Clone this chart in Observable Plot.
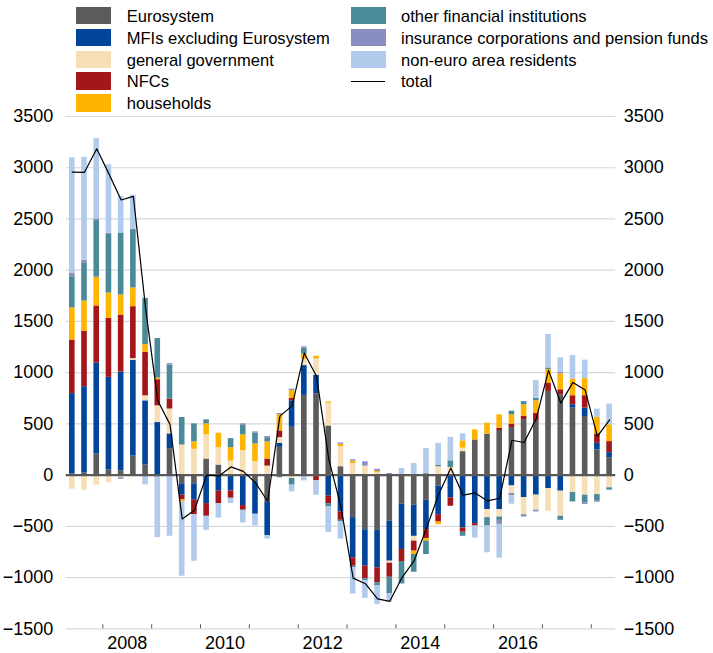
<!DOCTYPE html>
<html><head><meta charset="utf-8">
<script src="https://cdn.jsdelivr.net/npm/d3@7"></script>
<script src="https://cdn.jsdelivr.net/npm/@observablehq/plot@0.6"></script>
<style>
body{margin:0;background:#fff;font-family:"Liberation Sans",Arial,sans-serif;}
#wrap{position:relative;width:713px;height:653px;overflow:hidden;}
#legend{position:relative;height:106px;}
.sw{position:absolute;width:35px;height:17.6px;}
.ln{position:absolute;width:34px;height:0;border-top:1.2px solid #000;}
.lt{position:absolute;font-size:16.55px;line-height:17.6px;color:#000;white-space:nowrap;}
#chart svg{display:block;}
</style></head><body>
<div id="wrap"><div id="legend"></div><div id="chart"></div></div>
<script>
const quarters = ["2007Q2","2007Q3","2007Q4",
 "2008Q1","2008Q2","2008Q3","2008Q4","2009Q1","2009Q2","2009Q3","2009Q4",
 "2010Q1","2010Q2","2010Q3","2010Q4","2011Q1","2011Q2","2011Q3","2011Q4",
 "2012Q1","2012Q2","2012Q3","2012Q4","2013Q1","2013Q2","2013Q3","2013Q4",
 "2014Q1","2014Q2","2014Q3","2014Q4","2015Q1","2015Q2","2015Q3","2015Q4",
 "2016Q1","2016Q2","2016Q3","2016Q4","2017Q1","2017Q2","2017Q3","2017Q4",
 "2018Q1","2018Q2"];
const sectorNames = ["Eurosystem","MFIs excluding Eurosystem","general government","NFCs","households",
 "other financial institutions","insurance corporations and pension funds","non-euro area residents"];
const sectorColors = ["#5b5b5b","#00459a","#f6dfb6","#a3171a","#ffb400","#4b8a98","#8a8dc0","#b2cbec"];
const eurosystem = [10,20,206,49,42,186,98,0,258,-85,-85,157,98,0,0,-65,-268,271,467,778,794,480,82,-415,-533,-539,-451,-284,-294,-245,-108,0,229,343,399,435,465,542,533,817,784,654,572,245,170];
const mfis = [785,843,889,905,964,935,627,513,144,-111,-160,-278,-157,-154,-297,-317,-323,39,258,291,180,-206,-359,-392,-356,-366,-389,-441,-304,-288,-278,-222,-516,-474,-337,-337,-106,-219,-196,-131,-157,33,82,65,49];
const generalGov = [-137,-147,-98,-75,-25,16,49,163,243,294,252,235,170,137,239,131,88,56,-33,60,160,222,196,114,88,23,-20,0,-46,0,82,75,33,0,-78,-72,-73,-167,-147,-222,-245,-170,-196,-190,-124];
const nfcs = [523,542,556,578,556,507,425,255,97,-46,-142,-124,-121,-72,-46,0,69,65,23,0,-56,-72,-82,-82,-124,-147,-137,-118,-98,-88,-72,-82,-42,-23,0,23,33,30,72,82,49,88,121,92,108];
const households = [314,294,281,245,196,183,75,16,0,-20,72,108,141,131,154,173,167,160,78,50,26,13,23,23,0,13,0,0,-33,-23,-26,0,72,98,108,131,90,114,121,131,154,163,167,160,163];
const ofi = [304,373,552,572,605,569,451,386,333,268,176,39,0,88,92,105,33,-26,-65,60,0,-33,-16,-16,-16,-26,-163,-219,-173,-131,16,65,-39,0,-82,-33,36,31,23,16,-39,-92,-75,-65,-23];
const icpf = [36,26,16,13,-15,5,0,0,13,0,0,0,0,0,16,13,20,10,13,13,0,0,13,13,42,20,16,0,0,16,0,0,0,0,0,-39,-23,-23,-16,0,16,0,-16,-10,0];
const nonEuro = [1124,1003,784,667,356,330,-95,-610,-597,-725,-454,-137,-141,-52,-124,-114,-33,0,-65,-56,-140,-248,-167,-255,-173,-186,-82,65,114,245,212,229,69,-118,-261,-330,-82,0,173,327,141,229,180,82,203];
const total = [2957,2955,3186,2940,2685,2720,1630,725,495,-428,-343,0,-8,80,36,-75,-255,576,676,1190,964,158,-310,-1005,-1060,-1208,-1232,-1000,-834,-520,-190,70,-196,-174,-252,-226,340,318,553,1022,703,905,830,378,540];
const yTicks = [-1500,-1000,-500,0,500,1000,1500,2000,2500,3000,3500];
const yearBounds = [2008,2009,2010,2011,2012,2013,2014,2015,2016,2017,2018];
const labelYears = [2008,2010,2012,2014,2016];

const series = [eurosystem, mfis, generalGov, nfcs, households, ofi, icpf, nonEuro];
const qStart = q => +q.slice(0,4) + (+q.slice(5) - 1) / 4;
const rows = [];
quarters.forEach((q, i) => {
  const t0 = qStart(q);
  series.forEach((s, k) => rows.push({t0, t1: t0 + 0.25, sector: sectorNames[k], value: s[i]}));
});
const totalRows = quarters.map((q, i) => ({t: qStart(q) + 0.125, total: total[i]}));

// legend
const legend = document.getElementById("legend");
const add = (html) => legend.insertAdjacentHTML("beforeend", html);
sectorNames.forEach((name, k) => {
  const col = k < 5 ? 0 : 1;
  const row = k < 5 ? k : k - 5;
  const sx = col ? 350.7 : 76, tx = col ? 401 : 126.7;
  const top = 6.7 + row * 21.9;
  add(`<div class="sw" style="left:${sx}px;top:${top}px;background:${sectorColors[k]}"></div>`);
  add(`<div class="lt" style="left:${tx}px;top:${top + 1}px">${name}</div>`);
});
{
  const top = 6.7 + 3 * 21.9;
  add(`<div class="ln" style="left:350.7px;top:${top + 8.2}px"></div>`);
  add(`<div class="lt" style="left:401px;top:${top + 1}px">total</div>`);
}

const fmt = d => String(d).replace("-", "\u2212");
const chart = Plot.plot({
  width: 713, height: 547,
  marginLeft: 65.7, marginRight: 97.8, marginTop: 10, marginBottom: 24.7,
  x: {domain: [2007.25, 2018.5]},
  y: {domain: [-1500, 3500]},
  color: {domain: sectorNames, range: sectorColors},
  style: {fontFamily: "'Liberation Sans', Arial, sans-serif", fontSize: "18px", color: "#000", background: "#fff"},
  marks: [
    Plot.ruleY(yTicks, {stroke: "#d9d9d9", strokeWidth: 1.2}),
    Plot.rectY(rows, {x1: "t0", x2: "t1", y: "value", fill: "sector", insetLeft: 3.3, insetRight: 3.3}),
    Plot.ruleY([0], {stroke: "#595959", strokeWidth: 2.2}),
    Plot.ruleX(yearBounds, {y1: -1500, y2: -1461, stroke: "#595959", strokeWidth: 1}),
    Plot.line(totalRows, {x: "t", y: "total", stroke: "#000", strokeWidth: 1.2}),
    Plot.axisY({anchor: "left", ticks: yTicks, tickSize: 0, tickPadding: 13, tickFormat: fmt, label: null}),
    Plot.axisY({anchor: "right", ticks: yTicks, tickSize: 0, tickPadding: 8, tickFormat: fmt, label: null}),
    Plot.axisX({ticks: labelYears.map(y => y + 0.5), tickSize: 0, tickPadding: 7, tickFormat: d => String(Math.floor(d)), label: null})
  ]
});
document.getElementById("chart").appendChild(chart);
</script>
</body></html>
